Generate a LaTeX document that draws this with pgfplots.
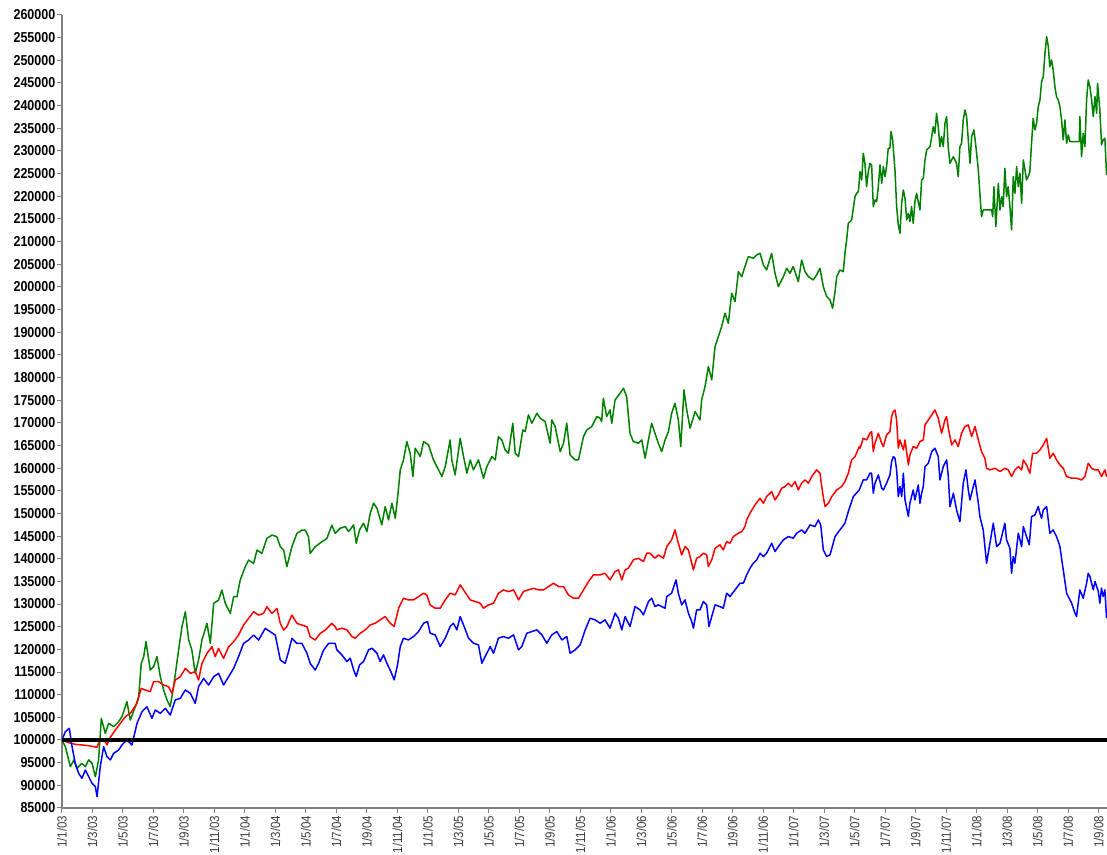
\documentclass[border=0pt]{standalone}
\usepackage{fontspec}
\setmainfont{Liberation Sans}
\usepackage{pgfplots}
\pgfplotsset{compat=1.18}
\definecolor{xlgreen}{RGB}{0,128,0}
\definecolor{axgray}{RGB}{128,128,128}
\definecolor{lblgray}{RGB}{60,60,60}
\begin{document}
\begin{tikzpicture}
\begin{axis}[
  scale only axis,
  width=1045pt, height=793pt,
  xmin=0, xmax=68.55, ymin=85000, ymax=260000,
  axis x line*=bottom, axis y line*=left,
  axis line style={axgray, line width=1.3pt},
  tick align=outside, major tick length=5pt,
  every tick/.style={axgray, line width=1pt},
  ytick={85000,90000,...,260000},
  scaled y ticks=false,
  /pgf/number format/.cd, fixed, set thousands separator={}, assume math mode=true,
  /pgfplots/.cd,
  yticklabel style={font=\bfseries\fontsize{12.5}{14}\selectfont, black, inner sep=1.5pt, yscale=1.15},
  xtick={0,2,...,68},
  xticklabels={1/1/03,1/3/03,1/5/03,1/7/03,1/9/03,1/11/03,1/1/04,1/3/04,1/5/04,1/7/04,1/9/04,1/11/04,1/1/05,1/3/05,1/5/05,1/7/05,1/9/05,1/11/05,1/1/06,1/3/06,1/5/06,1/7/06,1/9/06,1/11/06,1/1/07,1/3/07,1/5/07,1/7/07,1/9/07,1/11/07,1/1/08,1/3/08,1/5/08,1/7/08,1/9/08},
  xticklabel style={rotate=90, anchor=east, font=\fontsize{11.5}{13}\selectfont, lblgray, inner sep=2.5pt, yscale=1.15},
  every axis plot/.append style={line width=1.5pt, line join=round},
]
% green
\addplot[xlgreen] coordinates {
(0,100000)(0.22,98530)(0.55,94100)(0.77,95590)(0.98,93750)(1.31,94850)(1.53,94100)(1.75,95600)(1.97,94850)(2.19,91900)(2.40,95600)(2.58,104780)(2.84,101470)(3.06,103680)(3.39,102940)(3.72,104040)(3.93,105150)(4.26,108460)(4.48,104410)(4.81,107350)(5.03,109560)(5.20,116910)(5.36,118380)(5.51,121690)(5.79,115440)(6.01,116180)(6.23,118380)(6.45,113970)(6.67,111030)(6.89,108820)(7.10,107350)(7.32,111760)(7.65,119850)(7.87,125000)(8.09,128310)(8.31,122060)(8.52,119850)(8.74,114710)(8.96,117650)(9.18,122060)(9.51,125740)(9.73,121320)(9.95,130150)(10.27,130880)(10.49,133090)(10.71,130150)(11.04,127940)(11.26,131620)(11.48,131620)(11.69,135290)(12.02,138240)(12.24,139710)(12.57,138970)(12.79,141910)(13.11,141180)(13.44,144490)(13.77,145220)(14.10,144850)(14.32,142650)(14.54,141910)(14.75,138240)(15.08,142650)(15.41,145590)(15.74,146320)(15.96,146320)(16.17,144850)(16.28,141180)(16.61,142650)(17.05,143750)(17.38,144490)(17.70,147430)(17.92,145590)
(18.25,146730)(18.58,147100)(18.80,146000)(19.13,147470)(19.30,143420)(19.52,146370)(19.78,147840)(20.00,146000)(20.22,150040)(20.44,152250)(20.66,151150)(20.98,147470)(21.20,151510)(21.42,148570)(21.64,152250)(21.86,148940)(22.01,153350)(22.19,159600)(22.40,161810)(22.62,165860)(22.84,163280)(23.02,158130)(23.17,164390)(23.50,162550)(23.72,165860)(24.04,165120)(24.37,161810)(24.70,159610)(24.92,158130)(25.14,160340)(25.46,166220)(25.57,161810)(25.79,158500)(26.12,166590)(26.34,162550)(26.56,158870)(26.78,161810)(26.99,159610)(27.32,161810)(27.65,157770)(27.87,160340)(28.20,162550)(28.42,161810)(28.63,166960)(28.85,166220)(29.07,164020)(29.29,163280)(29.57,169900)(29.73,163280)(29.95,162550)(30.23,168430)(30.38,168060)(30.60,171740)(30.82,169900)(31.15,172110)(31.37,171010)(31.69,170270)(32.02,165490)(32.13,170640)(32.35,169170)(32.68,163650)(32.90,165490)(33.11,169900)(33.33,162910)(33.66,161810)(33.88,161810)(34.21,166960)(34.43,168430)(34.75,169170)(35.08,171370)(35.30,171010)
(35.40,170270)(35.51,175420)(35.73,171370)(35.95,172850)(36.06,169900)(36.28,175050)(36.61,176520)(36.83,177620)(37.04,175790)(37.26,167700)(37.48,165860)(37.81,165490)(38.03,166220)(38.25,162180)(38.47,166220)(38.68,169900)(38.90,167700)(39.12,165490)(39.34,163650)(39.56,166220)(39.78,168060)(39.99,172110)(40.21,174310)(40.43,170640)(40.59,164750)(40.80,177250)(40.98,172850)(41.20,168800)(41.53,172480)(41.85,170640)(41.96,175050)(42.18,177990)(42.40,182410)(42.62,179470)(42.84,186820)(43.06,189030)(43.27,191230)(43.49,194170)(43.71,191970)(43.93,198590)(44.15,196750)(44.37,203370)(44.59,202260)(44.80,204470)(45.02,206680)(45.35,206310)(45.57,207050)(45.79,207410)(46.01,204840)(46.22,203730)(46.55,207410)(46.77,203000)(46.99,200060)(47.32,202260)(47.54,204100)(47.75,203000)(47.97,204470)(48.30,201160)(48.52,205940)(48.74,203370)(48.96,202260)(49.28,201530)(49.50,202630)(49.72,204100)(49.94,200060)(50.16,197850)(50.38,197120)(50.55,195280)(50.71,198950)(50.82,202260)(51.03,203730)(51.25,203370)(51.36,207410)(51.47,210350)
(51.58,214040)(51.80,214770)(52.02,219910)(52.13,220660)
(52.24,221020)(52.35,225430)(52.46,223590)(52.56,229480)(52.67,227270)(52.78,222120)(52.89,225430)(53.00,227270)(53.11,226900)(53.22,217710)(53.33,219180)(53.44,218810)(53.55,222120)(53.66,226900)(53.77,222860)(53.88,226530)(53.99,224330)(54.09,226530)(54.20,230580)(54.31,230580)(54.38,234260)(54.49,232420)(54.64,225800)(54.75,217710)(54.86,213660)(54.97,211830)(55.08,218450)(55.19,221390)(55.30,219550)(55.41,214770)(55.52,216240)(55.62,214400)(55.73,217710)(55.84,214030)(55.95,218810)(56.06,220650)(56.28,216970)(56.39,223590)(56.50,223960)(56.61,228010)(56.72,230210)(56.94,230950)(57.05,233150)(57.15,235360)(57.26,233890)(57.37,238300)(57.48,235360)(57.59,230950)(57.70,233150)(57.81,230950)(57.92,236100)(58.03,237570)(58.14,230580)(58.25,227270)(58.47,228740)(58.68,227270)(58.79,224330)(58.90,230950)(59.01,231680)(59.12,236830)(59.23,239040)(59.34,237570)(59.45,232420)(59.56,227270)(59.67,233150)(59.82,234630)(59.95,230950)(60.11,225800)(60.21,220650)(60.32,215500)(60.43,216970)(60.98,216970)(61.05,215500)(61.13,222120)(61.26,213300)(61.42,222860)(61.53,216970)(61.64,219910)(61.74,217710)(61.85,226170)(61.96,219910)(62.07,222120)(62.18,217710)(62.29,212560)(62.40,224330)(62.51,220650)(62.62,226530)(62.73,222120)(62.84,225060)(62.95,218450)(63.06,228010)(63.17,225800)(63.27,223590)(63.38,224330)(63.49,225430)(63.60,231680)(63.71,237200)(63.82,234630)(63.93,236100)(64.04,239770)(64.15,241240)(64.26,245290)(64.37,246390)(64.48,251540)(64.59,255220)(64.70,253010)(64.80,248600)(64.91,250070)(65.02,247870)(65.13,244190)(65.24,241980)(65.35,241240)(65.46,239770)(65.57,236830)(65.68,232420)(65.79,236830)(65.90,231680)(66.01,233520)(66.12,232050)(66.73,232050)(66.77,237570)(66.88,228740)(66.99,233890)(67.10,230950)(67.21,241240)(67.32,245660)(67.43,244190)(67.54,241240)(67.65,237570)(67.76,241980)(67.87,238300)(67.93,244920)(68.08,239040)(68.19,231320)(68.30,232420)(68.41,232790)(68.52,224700)
};
% red
\addplot[red] coordinates {
(0,100000)(0.44,99410)(0.87,99040)(1.31,98900)(1.75,98750)(2.08,98530)(2.30,98380)(2.51,100370)(2.84,99630)(2.95,98900)(3.17,100590)(3.50,102210)(3.83,103680)(4.15,105150)(4.48,105880)(4.92,108090)(5.20,111400)(5.46,111030)(5.79,110660)(6.01,112870)(6.34,112870)(6.67,112130)(6.99,111760)(7.21,110290)(7.43,113240)(7.76,113970)(8.09,115810)(8.42,114710)(8.74,115070)(8.96,113240)(9.18,116910)(9.51,119120)(9.84,120590)(10.05,118380)(10.27,120220)(10.60,118010)(10.93,120590)(11.26,121690)(11.58,123160)(11.91,125370)(12.24,126840)(12.57,128310)(12.90,127570)(13.22,127940)(13.44,129410)(13.77,127940)(14.10,129040)(14.32,125740)(14.54,124260)(14.75,125000)(15.08,127570)(15.41,125740)(15.74,125370)(16.07,125000)(16.28,122790)(16.61,122060)(16.94,123530)(17.27,124260)(17.70,125740)(17.92,125000)
(18.03,124300)(18.36,124670)(18.69,124300)(19.02,122830)(19.23,122460)(19.56,123570)(19.89,124300)(20.22,125400)(20.55,125770)(20.87,126510)(21.20,127240)(21.53,125770)(21.79,125040)(22.08,129080)(22.40,131290)(22.73,130920)(23.06,130920)(23.39,131660)(23.72,132390)(23.93,132030)(24.15,129820)(24.48,129080)(24.81,129080)(25.14,130920)(25.46,132390)(25.79,132030)(26.12,134230)(26.34,133130)(26.56,132030)(26.78,130920)(27.10,130550)(27.43,130190)(27.65,129080)(27.98,129820)(28.31,130190)(28.63,132390)(28.96,133130)(29.29,132760)(29.62,133130)(29.95,130920)(30.27,132760)(30.60,133130)(30.93,133490)(31.26,133130)(31.58,133130)(31.91,133860)(32.24,134600)(32.57,133860)(32.90,133860)(33.22,132030)(33.55,131290)(33.88,131290)(34.21,133130)(34.54,134970)(34.86,136440)
(35.30,136430)(35.62,136800)(35.95,135330)(36.28,137170)(36.50,137540)(36.72,135330)(36.94,137540)(37.15,137910)(37.48,139750)(37.81,140120)(38.14,139380)(38.36,141220)(38.57,141220)(38.90,140120)(39.12,140850)(39.45,140120)(39.67,142690)(39.99,144160)(40.21,146370)(40.43,143430)(40.65,140850)(40.87,142690)(41.09,141950)(41.20,140480)(41.42,137540)(41.63,140120)(41.85,140480)(42.07,141220)(42.29,140850)(42.40,138270)(42.62,139750)(42.84,142320)(43.16,143060)(43.38,141950)(43.60,143790)(43.82,143430)(44.04,144900)(44.37,145630)(44.59,146000)(44.80,147100)(44.91,148570)(45.13,150040)(45.46,151880)(45.79,153350)(46.01,152250)(46.22,153720)(46.55,154820)(46.77,152980)(46.99,154090)(47.21,155560)(47.43,155930)(47.65,156660)(47.86,155930)(48.08,157030)(48.30,155190)(48.52,156660)(48.74,157400)(48.96,156660)(49.18,158130)(49.50,159610)(49.72,158870)(49.90,154460)(50.05,151520)(50.27,152250)(50.49,153720)(50.82,155190)(51.14,155930)(51.36,157030)(51.58,158870)(51.80,161810)(52.02,162550)(52.30,164750)
(52.35,164390)(52.56,166590)(52.78,166220)(53.00,167700)(53.11,168060)(53.22,163650)(53.33,165490)(53.55,167700)(53.77,165490)(53.88,164750)(54.09,167330)(54.31,168060)(54.42,171370)(54.53,172480)(54.64,172840)(54.75,170640)(54.86,164390)(54.97,166220)(55.19,164020)(55.30,166220)(55.52,160710)(55.62,162910)(55.84,164750)(56.06,164390)(56.28,165860)(56.50,166220)(56.61,169530)(56.83,170640)(57.05,171740)(57.26,172840)(57.48,171010)(57.70,167700)(57.92,170640)(58.03,171370)(58.14,168800)(58.36,165120)(58.58,166220)(58.79,164750)(59.01,167700)(59.23,169170)(59.45,169530)(59.67,166960)(59.89,169170)(60.11,166220)(60.32,163650)(60.54,162180)(60.65,159970)(60.87,159610)(61.20,159970)(61.53,159240)(61.85,159970)(62.07,159610)(62.29,158130)(62.51,159610)(62.73,160340)(62.95,159610)(63.06,161810)(63.27,160710)(63.49,158870)(63.67,163280)(63.93,163280)(64.15,164020)(64.37,165120)(64.59,166590)(64.80,162180)(65.02,163280)(65.24,161810)(65.46,160710)(65.68,159970)(65.90,158130)(66.23,157770)(66.55,157770)(66.88,157400)(67.10,158130)(67.32,161070)(67.54,159970)(67.76,159610)(67.98,159610)(68.19,158130)(68.41,159610)(68.52,158130)
};
% blue
\addplot[blue] coordinates {
(0,100000)(0.22,101840)(0.48,102570)(0.66,98530)(0.87,94850)(1.09,92650)(1.31,91540)(1.53,93380)(1.75,91910)(1.97,90440)(2.19,89710)(2.30,87500)(2.51,94120)(2.73,98530)(2.95,96320)(3.17,95590)(3.39,97060)(3.72,97790)(3.93,98900)(4.26,100000)(4.59,98900)(4.92,103680)(5.25,106250)(5.57,107350)(5.90,104780)(6.12,106620)(6.45,105880)(6.78,106990)(7.10,105510)(7.43,108820)(7.76,109190)(8.09,111030)(8.42,110290)(8.74,108090)(8.96,111760)(9.29,113600)(9.62,112130)(9.95,113970)(10.27,114710)(10.60,112130)(10.93,113970)(11.26,115810)(11.58,118380)(11.91,121320)(12.24,122060)(12.57,123160)(12.90,122060)(13.33,124630)(13.66,123900)(13.99,123160)(14.32,117650)(14.64,116910)(14.86,119490)(15.08,122430)(15.41,121320)(15.74,121320)(16.07,119120)(16.28,116910)(16.61,115440)(16.83,116910)(17.16,119850)(17.49,121320)(17.92,121320)
(18.03,119890)(18.36,118780)(18.69,117310)(18.91,118050)(19.13,115480)(19.30,114010)(19.52,116580)(19.78,117310)(20.11,119890)(20.33,120250)(20.66,119150)(20.87,117310)(21.09,118780)(21.31,116940)(21.57,115100)(21.79,113270)(22.01,116580)(22.19,120620)(22.40,122460)(22.73,122090)(23.06,122830)(23.39,123930)(23.72,125770)(23.98,126140)(24.15,123570)(24.48,123200)(24.81,120620)(25.14,122460)(25.46,125040)(25.68,125770)(25.90,124300)(26.12,127240)(26.38,125040)(26.67,122460)(26.99,121360)(27.32,120990)(27.54,116940)(27.76,118420)(28.09,120620)(28.31,119150)(28.63,122460)(28.96,122830)(29.29,122460)(29.62,123200)(29.95,119890)(30.16,120620)(30.49,123570)(30.82,123930)(31.15,124300)(31.48,123200)(31.80,121360)(32.13,123200)(32.46,123930)(32.79,122090)(33.11,122830)(33.33,119150)(33.66,119890)(33.99,120990)(34.32,124300)(34.64,126870)(34.97,126510)(35.30,125770)
(35.62,126510)(35.95,124670)(36.28,127980)(36.50,126870)(36.72,124300)(36.94,127240)(37.26,125040)(37.59,129450)(37.92,128710)(38.14,127610)(38.47,130550)(38.68,131290)(38.90,129450)(39.12,129820)(39.56,129080)(39.67,131660)(39.99,132390)(40.28,135330)(40.43,132390)(40.65,129820)(40.87,130920)(41.09,127980)(41.31,126140)(41.42,124670)(41.63,128710)(41.85,128710)(42.07,130550)(42.29,129820)(42.44,125040)(42.62,127240)(42.84,129820)(43.16,129450)(43.38,129080)(43.60,132390)(43.82,131660)(44.15,133130)(44.48,134600)(44.70,134600)(44.91,136430)(45.13,137910)(45.35,139010)(45.57,139750)(45.79,141220)(46.01,140480)(46.22,141220)(46.55,143430)(46.77,141590)(46.99,142690)(47.32,144160)(47.65,144900)(47.97,144530)(48.19,145630)(48.52,146370)(48.74,145630)(49.07,147470)(49.39,147100)(49.61,148570)(49.77,147470)(49.94,141950)(50.16,140480)(50.38,140850)(50.71,144900)(51.03,146370)(51.36,147840)(51.58,150410)(51.91,153720)(52.30,155190)
(52.56,157400)(52.78,157400)(53.00,158870)(53.11,158870)(53.22,154460)(53.33,156660)(53.55,158500)(53.77,155560)(53.88,155190)(54.09,156660)(54.31,158500)(54.42,161440)(54.53,162550)(54.64,162180)(54.75,159610)(54.86,153720)(54.97,155930)(55.08,153720)(55.19,158870)(55.30,152980)(55.52,149310)(55.62,152250)(55.84,155190)(55.95,152980)(56.17,156300)(56.28,152250)(56.39,154460)(56.50,155930)(56.61,160340)(56.83,161070)(57.05,163650)(57.26,164390)(57.48,162550)(57.59,157400)(57.81,160340)(58.03,161810)(58.14,158130)(58.25,151510)(58.47,154460)(58.68,150780)(58.90,148200)(59.12,156660)(59.30,159610)(59.45,155190)(59.56,152980)(59.67,154460)(59.89,157400)(60.11,152250)(60.21,149310)(60.43,146370)(60.54,142690)(60.65,139010)(60.87,143430)(61.09,147840)(61.31,142690)(61.53,143430)(61.64,144900)(61.85,147840)(61.96,144160)(62.18,142320)(62.29,136800)(62.40,140480)(62.51,139010)(62.73,145630)(62.95,142690)(63.06,147100)(63.27,144900)(63.45,143060)(63.60,149310)(63.82,149680)(64.04,151510)(64.15,150040)(64.26,148940)(64.37,150780)(64.59,151510)(64.80,145630)(65.02,146370)(65.24,144900)(65.46,142690)(65.68,137540)(65.90,132390)(66.12,130920)(66.23,130190)(66.45,127980)(66.55,127240)(66.77,133130)(66.99,131290)(67.21,134600)(67.32,136800)(67.43,136070)(67.54,134600)(67.65,133130)(67.76,134970)(67.98,132760)(68.08,130190)(68.19,133490)(68.30,131660)(68.41,133130)(68.52,126870)
};
% baseline
\addplot[black, line width=3.6pt] coordinates {(0,100000) (68.55,100000)};
\end{axis}
\pgfresetboundingbox
\path[use as bounding box] ([xshift=-62pt,yshift=-47pt]current axis.south west) rectangle ([yshift=15pt]current axis.north east);
\end{tikzpicture}
\end{document}
